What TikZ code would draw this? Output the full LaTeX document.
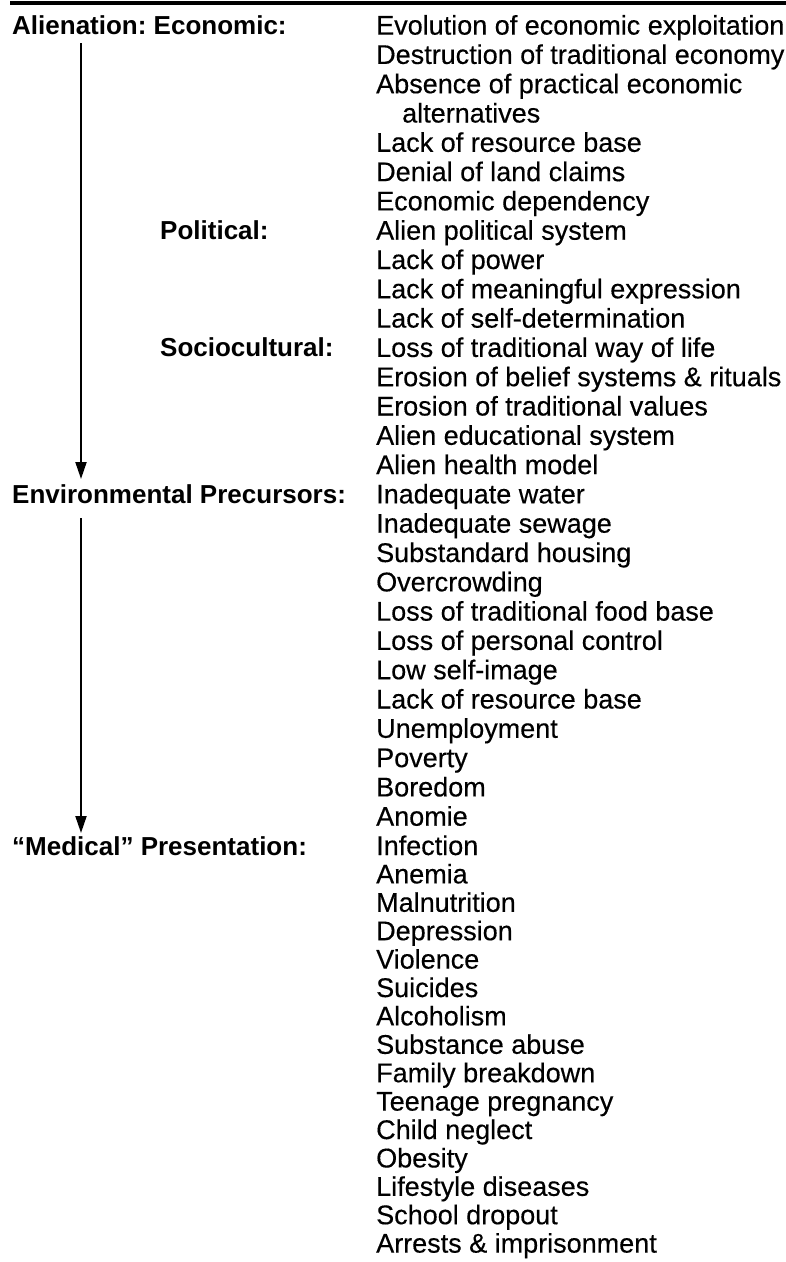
\documentclass[tikz,border=0pt]{standalone}
\usepackage{fontspec}
\setmainfont{Liberation Sans}
\newfontfamily\itemfont{Liberation Sans}[FakeBold=0.35]
\usetikzlibrary{arrows.meta}
\frenchspacing

\begin{document}
\begin{tikzpicture}[x=1pt,y=-1pt,
  item/.style={anchor=base west, inner sep=0pt, font=\fontsize{27}{29}\itemfont},
  lab/.style={anchor=base west, inner sep=0pt, font=\fontsize{26}{29}\selectfont\bfseries},
  flow/.style={line width=2pt, -{Triangle[length=17pt,width=11pt]}}]

\useasboundingbox (0,0) rectangle (786,1262);
\draw [line width=4pt](10,3) -- (786,3);

\foreach \txt [count=\i] in {Evolution of economic exploitation, Destruction of traditional economy,
  Absence of practical economic, \hspace*{26pt}alternatives, Lack of resource base,
  Denial of land claims, Economic dependency, Alien political system, Lack of power,
  Lack of meaningful expression, Lack of self-determination, Loss of traditional way of life,
  Erosion of belief systems \& rituals, Erosion of traditional values, Alien educational system,
  Alien health model, Inadequate water, Inadequate sewage, Substandard housing, Overcrowding,
  Loss of traditional food base, Loss of personal control, Low self-image, Lack of resource base,
  Unemployment, Poverty, Boredom, Anomie, Infection, Anemia, Malnutrition, Depression, Violence,
  Suicides, Alcoholism, Substance abuse, Family breakdown, Teenage pregnancy, Child neglect,
  Obesity, Lifestyle diseases, School dropout, Arrests \& imprisonment}{
  \pgfmathsetmacro{\yy}{\i<30 ? 34.6+(\i-1)*29.3 : 855+(\i-29)*28.4}
  \node [item] (item\i) at (376,\yy) {\txt};
}

\coordinate (colA) at (12,0);
\coordinate (colB) at (160,0);
\node [lab] (alienation) at (item1.base -| colA) {Alienation: Economic:};
\node [lab] (political) at (item8.base -| colB) {Political:};
\node [lab] (socio) at (item12.base -| colB) {Sociocultural:};
\node [lab] (environ) at (item17.base -| colA) {Environmental Precursors:};
\node [lab] (medical) at (item29.base -| colA) {“Medical” Presentation:};

\coordinate (startA) at (81,43);
\coordinate (tipA) at (81,479);
\coordinate (startB) at (81,518);
\coordinate (tipB) at (81,833);
\draw [flow](startA) -- (tipA);
\draw [flow](startB) -- (tipB);
\end{tikzpicture}
\end{document}
